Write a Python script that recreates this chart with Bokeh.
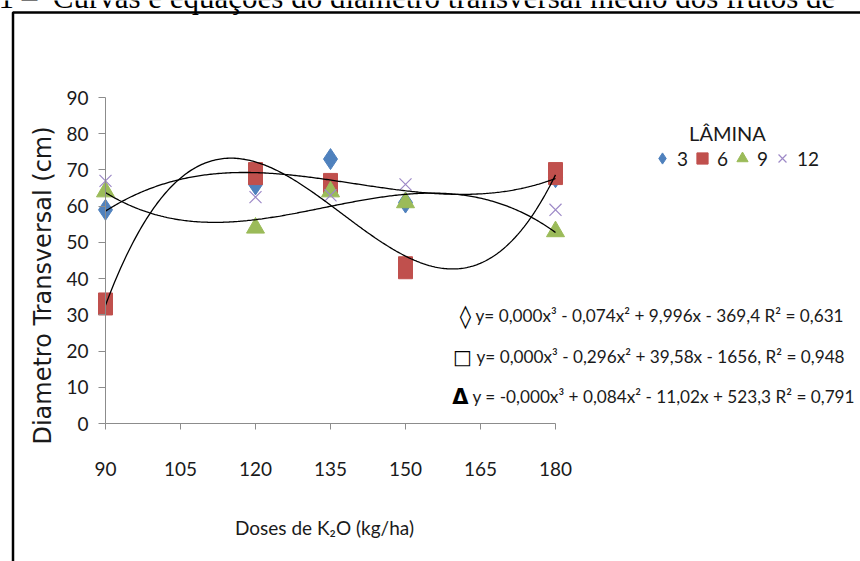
import numpy as np
from bokeh.plotting import figure
from bokeh.models import Range1d, Label, BoxAnnotation, Legend, LegendItem, FixedTicker
from bokeh.embed import file_html
from bokeh.resources import INLINE

# ---------------- data ----------------
doses = [90, 120, 135, 150, 180]
lamina_3 = [59, 66, 73, 61, 68]
lamina_6 = [33, 69, 66, 43, 69]
lamina_9 = [64, 54, 64, 61, 53]
lamina_12 = [67, 62.5, 63, 66, 59]
legend_labels = ["3", "6", "9", "12"]
x_ticks = [90, 105, 120, 135, 150, 165, 180]
y_ticks = [0, 10, 20, 30, 40, 50, 60, 70, 80, 90]
eq_symbols = ["◊", "□", "Δ"]
eq_texts = [
    "y= 0,000x³ - 0,074x² + 9,996x - 369,4 R² = 0,631",
    "y= 0,000x³ - 0,296x² + 39,58x - 1656, R² = 0,948",
    "y = -0,000x³ + 0,084x² - 11,02x + 523,3 R² = 0,791",
]
caption = "1 –\u2002Curvas e equações do diâmetro transversal médio dos frutos de"
x_title = "Doses de K₂O (kg/ha)"
y_title = "Diametro Transversal (cm)"
legend_title = "LÂMINA"

FONT = "Lato"

W, H = 860, 561
X0_PX, Y0_PX = 105, 423       # pixel of (90, 0)
px_x = 5.0                    # px per kg/ha
px_y = 326 / 90.0             # px per cm


def sy(y):
    return H - y


p = figure(width=W, height=H, output_backend="svg", toolbar_location=None,
           x_range=Range1d(90 - X0_PX / px_x, 90 + (W - X0_PX) / px_x),
           y_range=Range1d(-(H - Y0_PX) / px_y, Y0_PX / px_y),
           min_border=0, background_fill_color="white",
           border_fill_color="white", outline_line_color=None)
p.grid.visible = False

for ax in (p.xaxis[0], p.yaxis[0]):
    ax.axis_line_color = "#8c8c8c"
    ax.major_tick_line_color = "#8c8c8c"
    ax.minor_tick_line_color = None
    ax.major_tick_in = 0
    ax.major_label_text_font = FONT
    ax.major_label_text_font_size = "19px"
    ax.major_label_text_color = "#1a1a1a"

p.xaxis.ticker = FixedTicker(ticks=x_ticks)
p.xaxis.bounds = (90, 180)
p.xaxis.fixed_location = 0
p.xaxis.major_tick_out = 6
p.xaxis.major_label_standoff = 32

p.yaxis.ticker = FixedTicker(ticks=y_ticks)
p.yaxis.bounds = (0, 90)
p.yaxis.fixed_location = 90
p.yaxis.major_tick_out = 7
p.yaxis.major_label_standoff = 10

# ---------------- markers ----------------
r3 = p.scatter(doses, lamina_3, marker="diamond", size=21, color="#4F81BD")
r6 = p.scatter(doses, lamina_6, marker="square", size=13, color="#C0504D")
p.rect(doses, lamina_6, width=14, height=22, width_units="screen",
       height_units="screen", color="#C0504D")
r9 = p.scatter(doses, lamina_9, marker="triangle", size=18, color="#9BBB59")
r12 = p.scatter(doses, lamina_12, marker="x", size=17, line_color="#9D89C7",
                line_width=1.2)

# ---------------- cubic trendlines ----------------
xs = np.linspace(90, 180, 300)
for series in (lamina_3, lamina_6, lamina_9):
    coef = np.polyfit(doses, series, 3)
    p.line(xs, np.polyval(coef, xs), line_color="black", line_width=1.3)

# ---------------- legend ----------------
legend = Legend(items=[LegendItem(label=l, renderers=[r]) for l, r in
                       zip(legend_labels, [r3, r6, r9, r12])],
                orientation="horizontal", location=(648, sy(172)),
                glyph_width=28, glyph_height=28, label_standoff=1, spacing=0,
                label_width=10, padding=0, margin=0, border_line_color=None,
                background_fill_alpha=0, label_text_font=FONT,
                label_text_font_size="19px", label_text_color="#1a1a1a")
p.add_layout(legend, "center")

p.add_layout(Label(x=727, y=sy(132), x_units="screen", y_units="screen",
                   text=legend_title, text_align="center",
                   text_baseline="middle", text_font=FONT,
                   text_font_size="20px", text_color="#1a1a1a"))

# ---------------- equations ----------------
eq_y = [315, 356, 396]
sym_x = [465, 462, 460]
sym_size = ["23px", "20px", "21px"]
sym_style = ["bold", "normal", "bold"]
txt_x = [475, 476, 472]
for i, (s, t) in enumerate(zip(eq_symbols, eq_texts)):
    p.add_layout(Label(x=sym_x[i], y=sy(eq_y[i]), x_units="screen",
                       y_units="screen", text=s, text_align="center",
                       text_baseline="middle", text_font="DejaVu Sans",
                       text_font_style=sym_style[i], text_font_size=sym_size[i],
                       text_color="black"))
    p.add_layout(Label(x=txt_x[i], y=sy(eq_y[i]), x_units="screen",
                       y_units="screen", text=t, text_align="left",
                       text_baseline="middle", text_font=FONT,
                       text_font_size="17.2px", text_color="#1a1a1a"))

# ---------------- axis titles ----------------
p.add_layout(Label(x=324, y=sy(527), x_units="screen", y_units="screen",
                   text=x_title, text_align="center", text_baseline="middle",
                   text_font=FONT, text_font_size="19px", text_color="#1a1a1a"))
p.add_layout(Label(x=42, y=sy(285), x_units="screen", y_units="screen",
                   text=y_title, angle=np.pi / 2, text_align="center",
                   text_baseline="middle", text_font="DejaVu Sans",
                   text_font_size="24px", text_color="#1a1a1a"))

# ---------------- page frame & cut caption ----------------
p.add_layout(BoxAnnotation(left=12.5, right=W + 60, top=sy(12), bottom=-300,
                           left_units="screen", right_units="screen",
                           top_units="screen", bottom_units="screen",
                           fill_alpha=0, line_color="black", line_alpha=1,
                           line_width=2.5))
p.add_layout(Label(x=-2, y=sy(-3), x_units="screen", y_units="screen",
                   text=caption, text_align="left", text_baseline="alphabetic",
                   text_font="Liberation Serif", text_font_size="31px",
                   text_color="black"))

open("out.html", "w").write(file_html(p, INLINE))
